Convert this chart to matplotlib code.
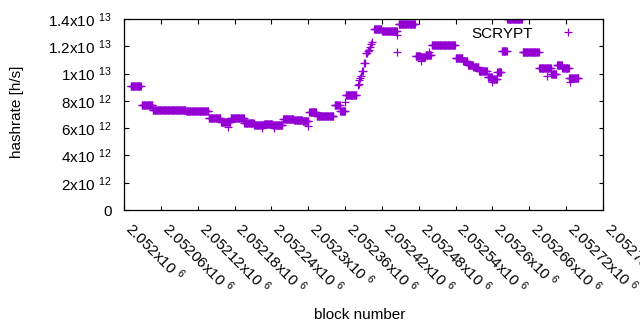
import numpy as np
import matplotlib
matplotlib.use("Agg")
import matplotlib.pyplot as plt
from matplotlib.lines import Line2D

# ---- data (block number, hashrate in h/s) ----
# constant-hashrate windows: first block, last block, hashrate
seg_start = [2052011, 2052029, 2052047, 2052101, 2052138, 2052158, 2052174, 2052196,
             2052212, 2052228, 2052242, 2052259, 2052277, 2052291, 2052302, 2052314,
             2052343, 2052352, 2052361, 2052407, 2052420, 2052447, 2052475, 2052483,
             2052491, 2052501, 2052540, 2052552, 2052560, 2052569, 2052578, 2052592,
             2052600, 2052608, 2052615, 2052624, 2052649, 2052676, 2052696, 2052705,
             2052714, 2052725]
seg_end = [2052027, 2052046, 2052100, 2052137, 2052157, 2052173, 2052195, 2052211,
           2052227, 2052241, 2052258, 2052276, 2052290, 2052300, 2052313, 2052341,
           2052351, 2052360, 2052378, 2052419, 2052444, 2052474, 2052482, 2052490,
           2052500, 2052539, 2052551, 2052559, 2052568, 2052577, 2052591, 2052599,
           2052607, 2052614, 2052623, 2052648, 2052675, 2052695, 2052704, 2052713,
           2052724, 2052740]
seg_rate = [9.07e12, 7.66e12, 7.31e12, 7.24e12, 6.72e12, 6.47e12, 6.72e12, 6.40e12,
            6.23e12, 6.33e12, 6.23e12, 6.69e12, 6.60e12, 6.55e12, 7.15e12, 6.89e12,
            7.66e12, 7.22e12, 8.43e12, 1.325e13, 1.314e13, 1.361e13, 1.13e13, 1.12e13,
            1.135e13, 1.207e13, 1.116e13, 1.092e13, 1.063e13, 1.050e13, 1.019e13, 9.77e12,
            9.60e12, 1.009e13, 1.169e13, 1.401e13, 1.156e13, 1.039e13, 9.95e12, 1.063e13,
            1.044e13, 9.68e12]

# individual blocks (ramp-up and outliers)
pt_block = [2052381, 2052382, 2052383, 2052385, 2052386, 2052388, 2052390, 2052391,
            2052393, 2052394, 2052396, 2052397, 2052399, 2052401, 2052402, 2052404,
            2052170, 2052225, 2052244, 2052300, 2052360, 2052445, 2052445, 2052483,
            2052496, 2052599, 2052689, 2052727]
pt_rate = [9.16e12, 9.21e12, 9.53e12, 9.70e12, 9.82e12, 1.019e13, 1.019e13, 1.075e13,
           1.075e13, 1.149e13, 1.149e13, 1.166e13, 1.173e13, 1.197e13, 1.215e13, 1.234e13,
           6.11e12, 5.99e12, 6.01e12, 6.18e12, 7.94e12, 1.156e13, 1.283e13, 1.089e13,
           1.158e13, 9.40e12, 9.82e12, 9.38e12]

x_ticks = list(range(2052000, 2052781, 60))
y_ticks = [0, 2e12, 4e12, 6e12, 8e12, 1e13, 1.2e13, 1.4e13]
y_labels = ["0", "2x10 $^{12}$", "4x10 $^{12}$", "6x10 $^{12}$", "8x10 $^{12}$",
            "1x10 $^{13}$", "1.2x10 $^{13}$", "1.4x10 $^{13}$"]

# expand windows to per-block points
blocks = np.concatenate([np.arange(s, e + 1) for s, e in zip(seg_start, seg_end)] + [np.array(pt_block)])
rates = np.concatenate([np.full(e - s + 1, r) for s, e, r in zip(seg_start, seg_end, seg_rate)] + [np.array(pt_rate)])

plt.rcParams['font.family'] = ['Liberation Sans', 'DejaVu Sans']
plt.rcParams['mathtext.fontset'] = 'custom'
plt.rcParams['mathtext.rm'] = 'Liberation Sans'
plt.rcParams['mathtext.it'] = 'Liberation Sans:italic'
plt.rcParams['mathtext.bf'] = 'Liberation Sans:bold'

FS = 11
color = '#9400D3'

fig = plt.figure(figsize=(6.4, 3.3), dpi=100)
ax = fig.add_axes([124 / 640, 1 - 210 / 330, (603 - 124) / 640, (210 - 19) / 330])

ax.plot(blocks, rates, linestyle='none', marker='+', markersize=5.2,
        markeredgewidth=0.9, color=color, label='SCRYPT')

ax.set_xlim(2052000, 2052780)
ax.set_ylim(0, 1.4e13)

ax.set_xticks(x_ticks)
ax.set_xticklabels([f"{v / 1e6:g}x10 $^{{6}}$" for v in x_ticks],
                   rotation=-45, ha='left', va='baseline', rotation_mode='anchor',
                   fontsize=FS)
ax.set_yticks(y_ticks)
ax.set_yticklabels(y_labels, fontsize=FS, va='center_baseline')

ax.tick_params(direction='in', length=4.5 * 0.72, width=0.8, top=True, right=True,
               color='black')
ax.tick_params(axis='x', pad=14.5)
ax.tick_params(axis='y', pad=8.9)
for sp in ax.spines.values():
    sp.set_linewidth(0.9)

ax.set_xlabel('block number', fontsize=FS)
ax.xaxis.set_label_coords(0.4927, -0.513)
ax.set_ylabel('hashrate [h/s]', fontsize=FS)
ax.yaxis.set_label_coords(-0.209, 0.515)

handle = Line2D([], [], linestyle='none', marker='+', markersize=5.2,
                markeredgewidth=0.9, color=color)
ax.legend([handle], ['SCRYPT'], loc='upper right', bbox_to_anchor=(0.958, 0.959),
          markerfirst=False, frameon=False, fontsize=FS, handlelength=2.0,
          handletextpad=1.27, borderaxespad=0, borderpad=0)

fig.savefig('out.png', dpi=100)
